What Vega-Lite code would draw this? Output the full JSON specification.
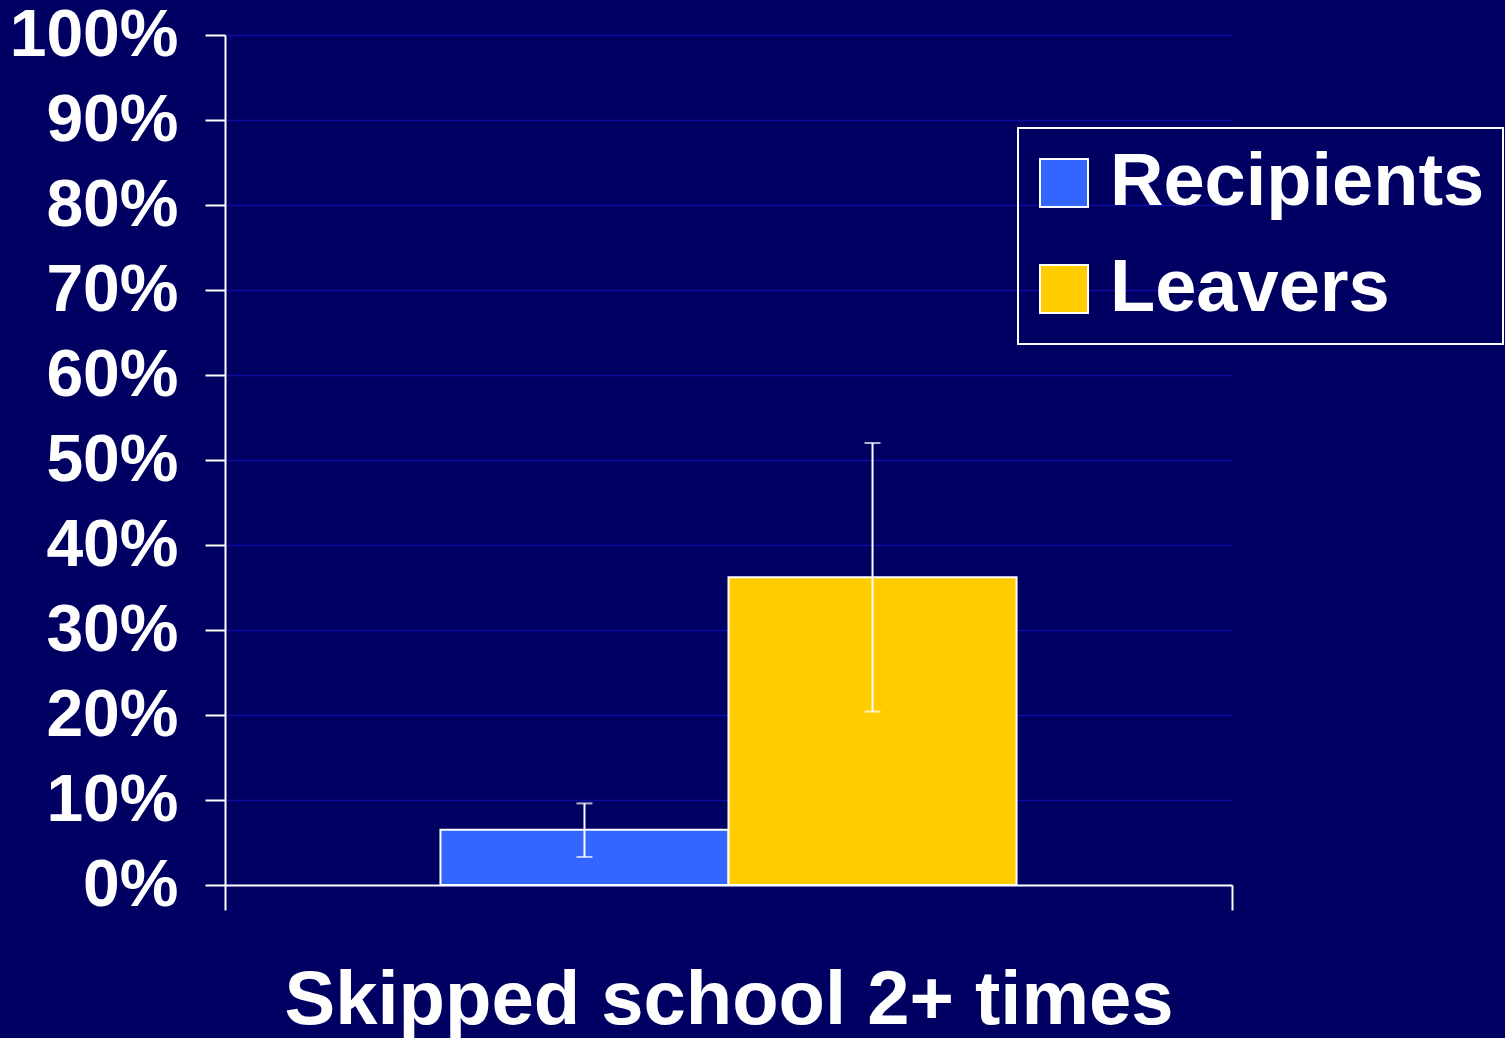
{
  "$schema": "https://vega.github.io/schema/vega-lite/v6.json",
  "autosize": {"type": "none"},
  "width": 1007,
  "height": 850,
  "padding": {"left": 225, "top": 35, "right": 273, "bottom": 153},
  "background": "#000062",
  "config": {
    "font": "Liberation Sans",
    "view": {"stroke": null},
    "axis": {"labelFont": "Liberation Sans", "titleFont": "Liberation Sans"},
    "legend": {"strokeColor": "white", "strokeWidth": 2}
  },
  "data": {
    "values": [
      {"item": "Skipped school 2+ times", "group": "Recipients", "value": 0.065, "lo": 0.033, "hi": 0.096},
      {"item": "Skipped school 2+ times", "group": "Leavers", "value": 0.362, "lo": 0.204, "hi": 0.52}
    ]
  },
  "encoding": {
    "x": {
      "field": "item",
      "type": "nominal",
      "scale": {"paddingInner": 0, "paddingOuter": 0},
      "axis": {
        "title": "Skipped school 2+ times",
        "titleFontSize": 76,
        "titleFontWeight": "bold",
        "titleColor": "white",
        "titlePadding": 52,
        "labels": false,
        "bandPosition": 1,
        "tickExtra": true,
        "ticks": true,
        "tickSize": 25,
        "tickWidth": 2,
        "tickColor": "white",
        "domainColor": "white",
        "domainWidth": 2,
        "grid": false
      }
    },
    "xOffset": {
      "field": "group",
      "type": "nominal",
      "sort": ["Recipients", "Leavers"],
      "scale": {"paddingInner": 0, "paddingOuter": 0.748}
    }
  },
  "layer": [
    {
      "mark": {"type": "bar", "stroke": "white", "strokeWidth": 2},
      "encoding": {
        "y": {
          "field": "value",
          "type": "quantitative",
          "scale": {"domain": [0, 1]},
          "axis": {
            "title": null,
            "format": ".0%",
            "values": [0, 0.1, 0.2, 0.3, 0.4, 0.5, 0.6, 0.7, 0.8, 0.9, 1],
            "labelFontSize": 66,
            "labelFontWeight": "bold",
            "labelColor": "white",
            "labelPadding": 27,
            "tickSize": 20,
            "tickWidth": 2,
            "tickColor": "white",
            "domainColor": "white",
            "domainWidth": 2,
            "grid": true,
            "gridColor": "#0c0ca0",
            "gridWidth": 1.5
          }
        },
        "color": {
          "field": "group",
          "type": "nominal",
          "sort": ["Recipients", "Leavers"],
          "scale": {"domain": ["Recipients", "Leavers"], "range": ["#3366ff", "#ffcc00"]},
          "legend": {
            "title": null,
            "orient": "none",
            "legendX": 793,
            "legendY": 93,
            "padding": 18,
            "symbolType": "square",
            "symbolSize": 2304,
            "symbolOffset": -9,
            "symbolStrokeColor": "white",
            "symbolStrokeWidth": 2,
            "symbolOpacity": 1,
            "labelFontSize": 74,
            "labelFontWeight": "bold",
            "labelColor": "white",
            "labelOffset": 9,
            "labelLimit": 1000,
            "rowPadding": 32
          }
        }
      }
    },
    {
      "mark": {"type": "rule", "color": "white", "strokeWidth": 2},
      "encoding": {
        "y": {"field": "lo", "type": "quantitative"},
        "y2": {"field": "hi"}
      }
    },
    {
      "mark": {"type": "tick", "color": "white", "orient": "horizontal", "size": 16, "thickness": 2},
      "encoding": {"y": {"field": "lo", "type": "quantitative"}}
    },
    {
      "mark": {"type": "tick", "color": "white", "orient": "horizontal", "size": 16, "thickness": 2},
      "encoding": {"y": {"field": "hi", "type": "quantitative"}}
    }
  ]
}
